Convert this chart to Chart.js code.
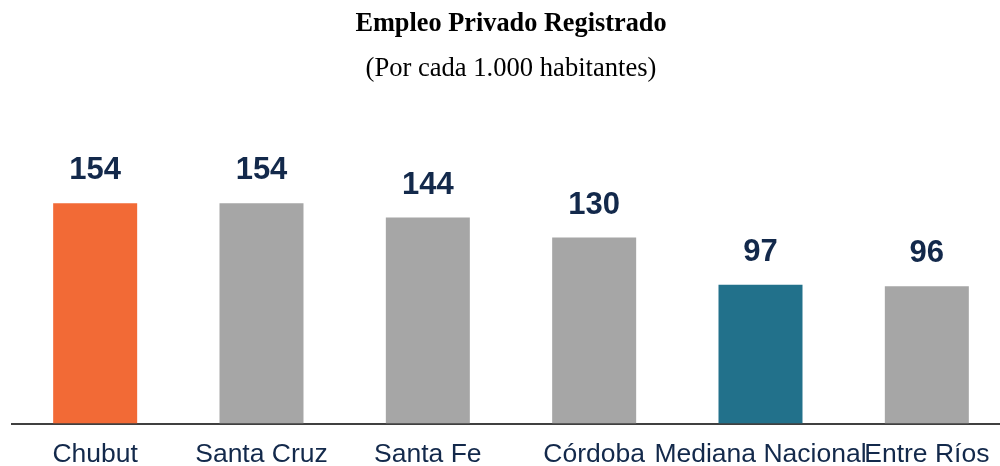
<!DOCTYPE html>
<html>
<head>
<meta charset="utf-8">
<script src="https://cdn.jsdelivr.net/npm/chart.js@4.4.1/dist/chart.umd.min.js"></script>
<style>
    html, body { margin: 0; padding: 0; background: #fff; overflow: hidden; }
    #wrap { position: relative; width: 1010px; height: 466px; }
</style>
</head>
<body>
<div id="wrap"><canvas id="chart"></canvas></div>
<script>
const categories = ['Chubut', 'Santa Cruz', 'Santa Fe', 'Córdoba', 'Mediana Nacional', 'Entre Ríos'];
const values = [154, 154, 144, 130, 97, 96];
const barColors = ['#F26A36', '#A6A6A6', '#A6A6A6', '#A6A6A6', '#22718B', '#A6A6A6'];

const NAVY = '#13294B';

// etiquetas de valor sobre cada barra
const valueLabels = {
    id: 'valueLabels',
    afterDatasetsDraw(chart) {
        const { ctx } = chart;
        const meta = chart.getDatasetMeta(0);
        ctx.save();
        ctx.font = 'bold 31px "Liberation Sans", Arial, sans-serif';
        ctx.fillStyle = NAVY;
        ctx.textAlign = 'center';
        ctx.textBaseline = 'alphabetic';
        meta.data.forEach((bar, i) => {
            ctx.fillText(String(values[i]), bar.x, bar.y - 24);
        });
        ctx.restore();
    },
};

new Chart(document.getElementById('chart'), {
    type: 'bar',
    data: {
        labels: categories,
        datasets: [{ data: values, backgroundColor: barColors, barPercentage: 0.505, categoryPercentage: 1 }],
    },
    options: {
        responsive: true,
        maintainAspectRatio: false,
        animation: false,
        layout: { padding: { left: 12, right: 0, top: 0, bottom: -20 } },
        plugins: {
            legend: { display: false },
            tooltip: { enabled: false },
            title: {
                display: true,
                text: 'Empleo Privado Registrado',
                color: '#000',
                font: { family: '"Liberation Serif", "Times New Roman", serif', size: 26.3, weight: 'bold', lineHeight: 1.2 },
                padding: { top: 8, bottom: 13 },
            },
            subtitle: {
                display: true,
                text: '(Por cada 1.000 habitantes)',
                color: '#000',
                font: { family: '"Liberation Serif", "Times New Roman", serif', size: 26.6, weight: 'normal', lineHeight: 1.2 },
                padding: { top: 0, bottom: 53 },
            },
        },
        scales: {
            x: {
                grid: { display: false, drawTicks: false },
                border: { display: true, color: '#404040', width: 2 },
                ticks: {
                    color: NAVY,
                    autoSkip: false,
                    maxRotation: 0,
                    padding: 18,
                    font: { family: '"Liberation Sans", Arial, sans-serif', size: 26.5, lineHeight: 1 },
                },
            },
            y: { display: false, min: 0, max: 200 },
        },
    },
    plugins: [valueLabels],
});
</script>
</body>
</html>
